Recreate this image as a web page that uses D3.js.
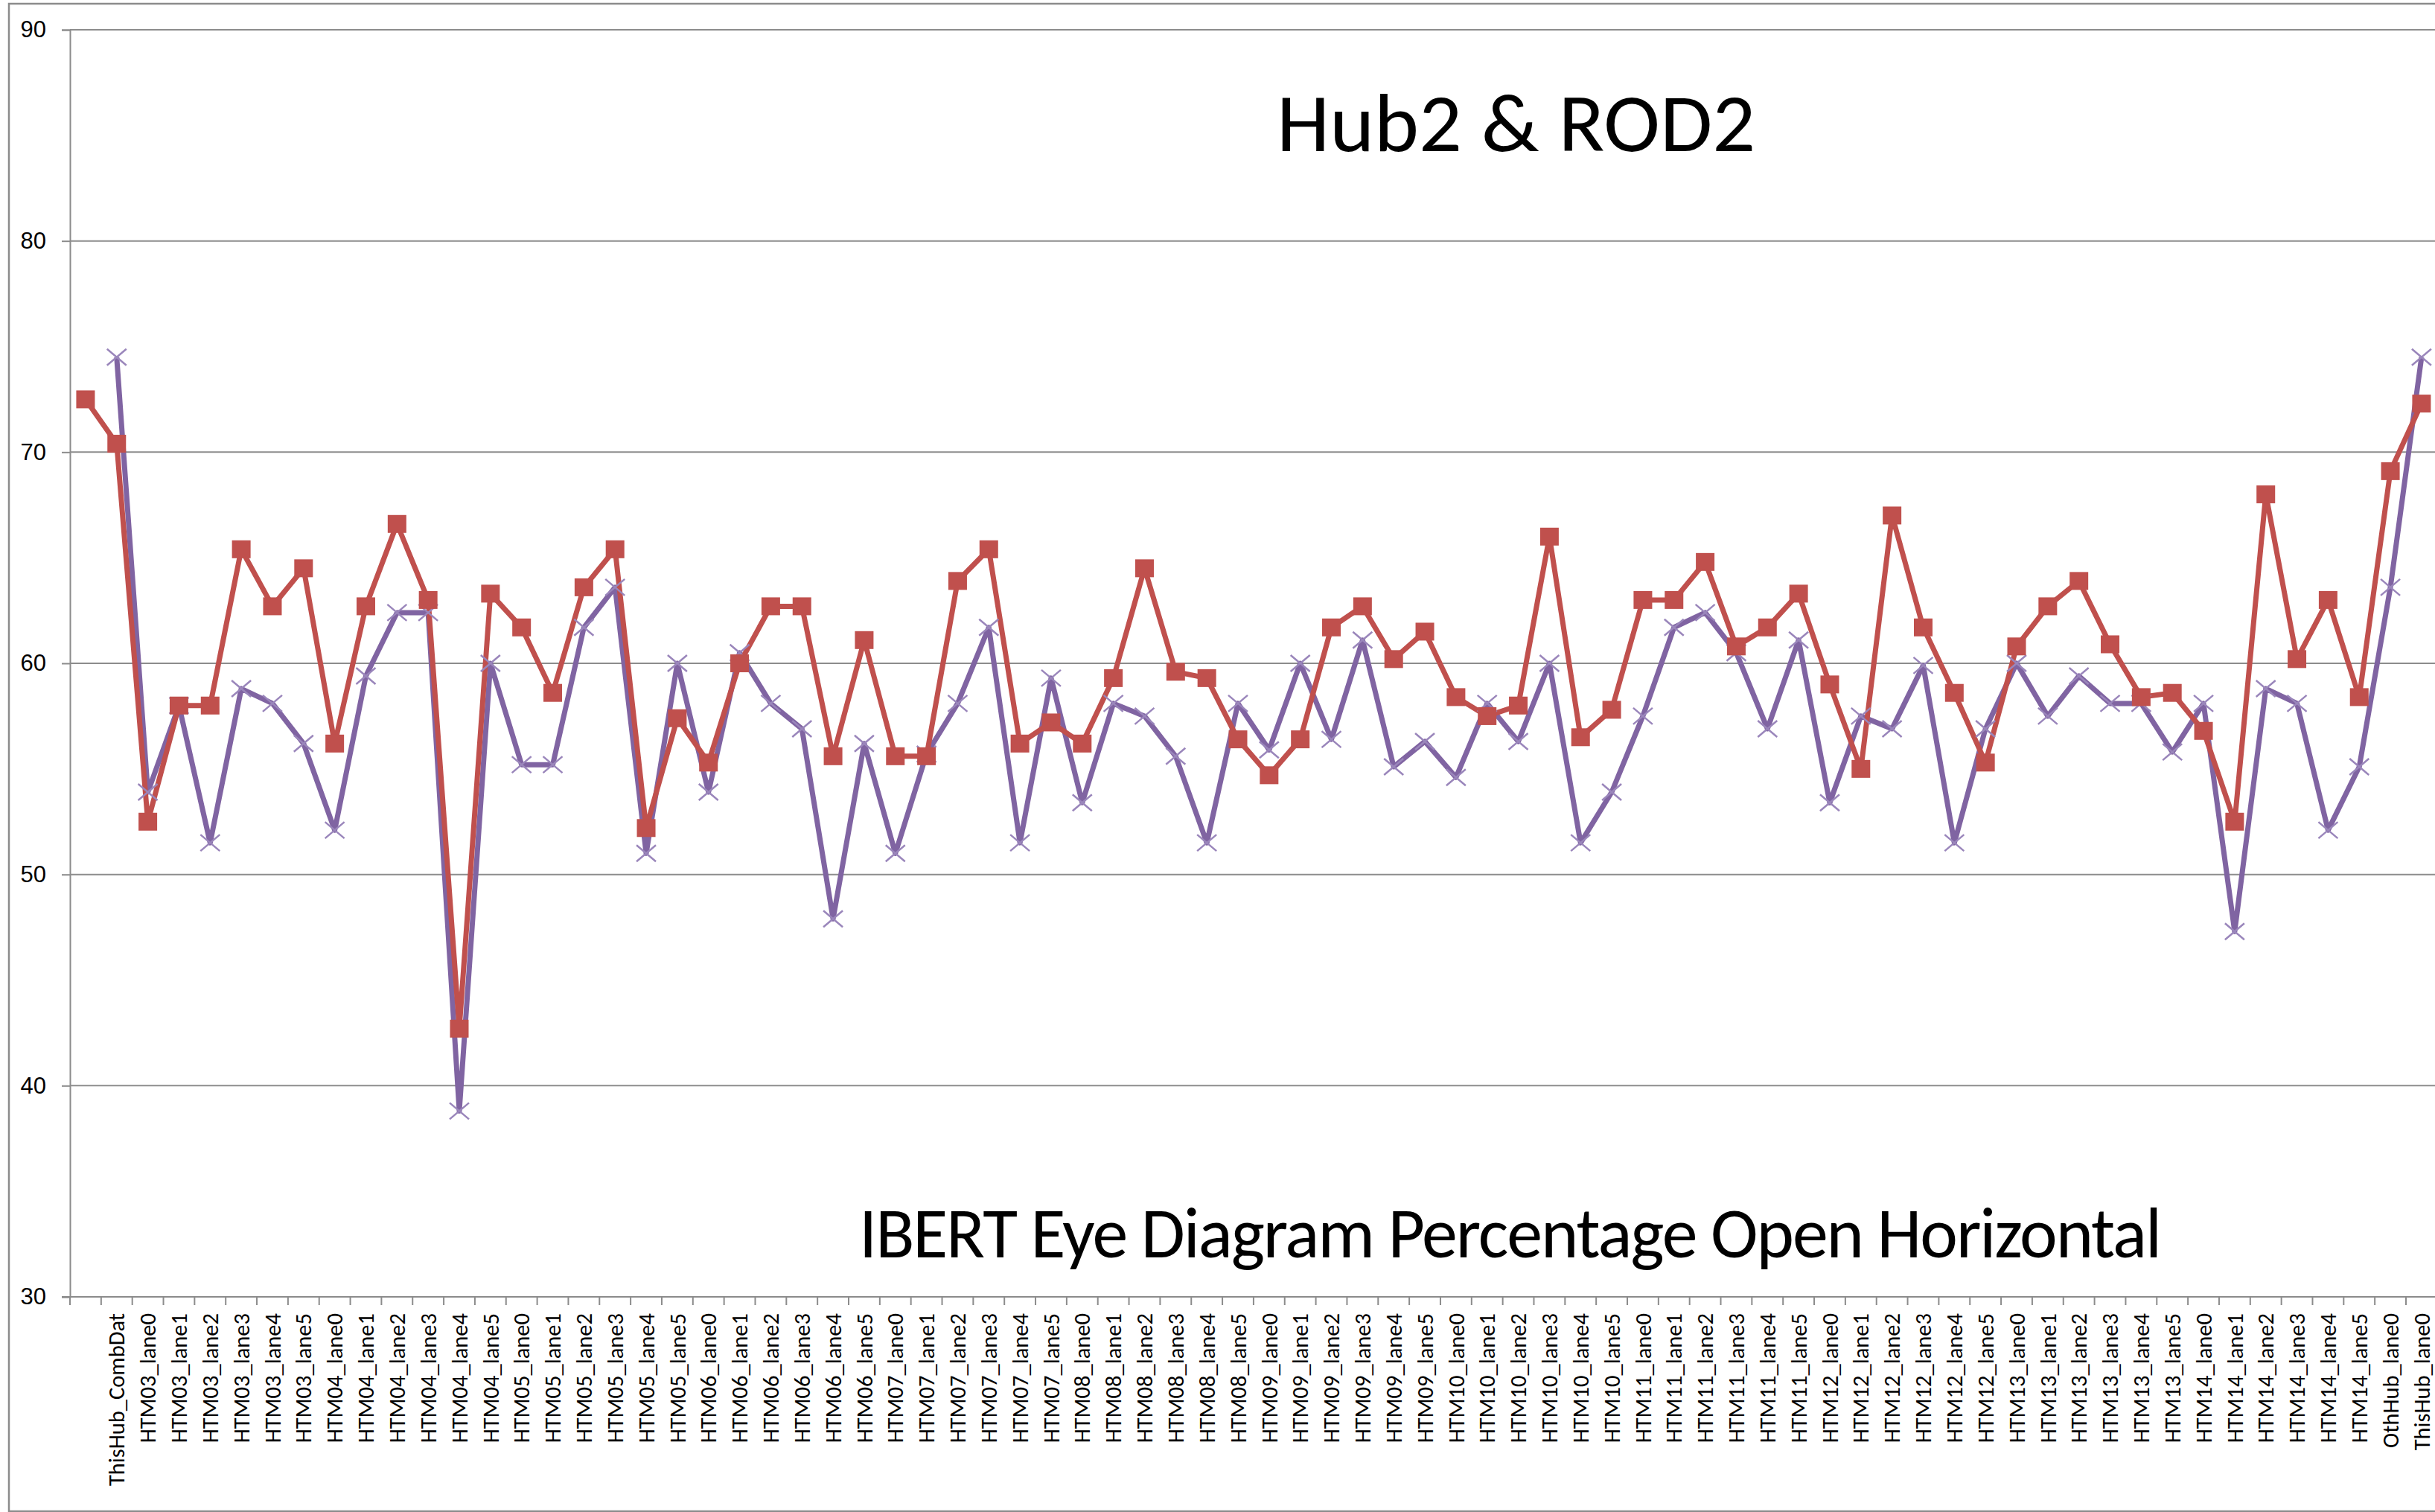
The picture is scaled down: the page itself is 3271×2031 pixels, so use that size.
<!DOCTYPE html>
<html>
<head>
<meta charset="utf-8">
<script src="https://cdn.jsdelivr.net/npm/d3@7"></script>
<style>
    body { margin: 0; background: #fff; }
    svg { display: block; font-family: Carlito, Lato, "Open Sans", sans-serif; }
    .grid line { stroke: #8c8c8c; stroke-width: 2; }
    .axis path, .axis line { stroke: #8c8c8c; stroke-width: 2; }
    .axis text { fill: #000; }
</style>
</head>
<body>
<div id="chart"></div>
<script>
const categories = ["", "ThisHub_CombDat",
    "HTM03_lane0", "HTM03_lane1", "HTM03_lane2", "HTM03_lane3", "HTM03_lane4", "HTM03_lane5",
    "HTM04_lane0", "HTM04_lane1", "HTM04_lane2", "HTM04_lane3", "HTM04_lane4", "HTM04_lane5",
    "HTM05_lane0", "HTM05_lane1", "HTM05_lane2", "HTM05_lane3", "HTM05_lane4", "HTM05_lane5",
    "HTM06_lane0", "HTM06_lane1", "HTM06_lane2", "HTM06_lane3", "HTM06_lane4", "HTM06_lane5",
    "HTM07_lane0", "HTM07_lane1", "HTM07_lane2", "HTM07_lane3", "HTM07_lane4", "HTM07_lane5",
    "HTM08_lane0", "HTM08_lane1", "HTM08_lane2", "HTM08_lane3", "HTM08_lane4", "HTM08_lane5",
    "HTM09_lane0", "HTM09_lane1", "HTM09_lane2", "HTM09_lane3", "HTM09_lane4", "HTM09_lane5",
    "HTM10_lane0", "HTM10_lane1", "HTM10_lane2", "HTM10_lane3", "HTM10_lane4", "HTM10_lane5",
    "HTM11_lane0", "HTM11_lane1", "HTM11_lane2", "HTM11_lane3", "HTM11_lane4", "HTM11_lane5",
    "HTM12_lane0", "HTM12_lane1", "HTM12_lane2", "HTM12_lane3", "HTM12_lane4", "HTM12_lane5",
    "HTM13_lane0", "HTM13_lane1", "HTM13_lane2", "HTM13_lane3", "HTM13_lane4", "HTM13_lane5",
    "HTM14_lane0", "HTM14_lane1", "HTM14_lane2", "HTM14_lane3", "HTM14_lane4", "HTM14_lane5",
    "OthHub_lane0", "ThisHub_lane0"];

// red squares
const hub2Values = [72.5, 70.4, 52.5, 58.0, 58.0, 65.4, 62.7, 64.5, 56.2, 62.7, 66.6, 63.0, 42.7,
    63.3, 61.7, 58.6, 63.6, 65.4, 52.2, 57.4, 55.3, 60.0, 62.7, 62.7, 55.6, 61.1,
    55.6, 55.6, 63.9, 65.4, 56.2, 57.2, 56.2, 59.3, 64.5, 59.6, 59.3, 56.4,
    54.7, 56.4, 61.7, 62.7, 60.2, 61.5, 58.4, 57.5, 58.0, 66.0, 56.5, 57.8,
    63.0, 63.0, 64.8, 60.8, 61.7, 63.3, 59.0, 55.0, 67.0, 61.7, 58.6, 55.3,
    60.8, 62.7, 63.9, 60.9, 58.4, 58.6, 56.8, 52.5, 68.0, 60.2, 63.0, 58.4, 69.1, 72.3];

// purple crosses
const rod2Values = [null, 74.5, 53.9, 58.0, 51.5, 58.8, 58.1, 56.2, 52.1, 59.4, 62.4, 62.4, 38.8,
    60.0, 55.2, 55.2, 61.7, 63.6, 51.0, 60.0, 53.9, 60.5, 58.1, 56.9, 47.9, 56.2,
    51.0, 55.7, 58.1, 61.7, 51.5, 59.3, 53.4, 58.1, 57.5, 55.6, 51.5, 58.1,
    55.9, 60.0, 56.4, 61.1, 55.1, 56.3, 54.6, 58.1, 56.3, 60.0, 51.5, 53.9,
    57.5, 61.7, 62.4, 60.5, 56.9, 61.1, 53.4, 57.5, 56.9, 59.9, 51.5, 56.9,
    60.0, 57.5, 59.4, 58.1, 58.1, 55.8, 58.1, 47.3, 58.8, 58.1, 52.1, 55.1, 63.6, 74.5];

const yTicks = [30, 40, 50, 60, 70, 80, 90];
const title = "Hub2 & ROD2";
const subtitle = "IBERT Eye Diagram Percentage Open Horizontal";

const W = 3271, H = 2031;
const margin = {top: 40, left: 94, bottom: 289};
const plotRight = 94 + 76 * 41.84;

const svg = d3.select("#chart").append("svg")
    .attr("width", W)
    .attr("height", H);

// chart border
svg.append("rect")
    .attr("x", 12).attr("y", 5)
    .attr("width", W + 20).attr("height", 2025)
    .attr("fill", "#fff")
    .attr("stroke", "#8c8c8c")
    .attr("stroke-width", 2.5);

const x = d3.scaleBand()
    .domain(d3.range(categories.length))
    .range([margin.left, plotRight]);

const y = d3.scaleLinear()
    .domain([30, 90])
    .range([H - margin.bottom, margin.top]);

// gridlines
svg.append("g").attr("class", "grid")
    .selectAll("line")
    .data(yTicks.slice(1))
    .enter().append("line")
    .attr("x1", margin.left).attr("x2", plotRight)
    .attr("y1", d => y(d)).attr("y2", d => y(d));

// y axis
svg.append("g")
    .attr("class", "axis")
    .attr("transform", "translate(" + margin.left + ",0)")
    .call(d3.axisLeft(y).tickValues(yTicks).tickSize(11).tickPadding(21).tickFormat(d3.format("d")))
    .call(g => g.selectAll("text").style("font-size", "31px"));

// x axis: ticks between categories
const xAxis = svg.append("g")
    .attr("class", "axis")
    .attr("transform", "translate(0," + y(30) + ")");

xAxis.append("line")
    .attr("x1", margin.left - 11).attr("x2", plotRight);

xAxis.selectAll(".bound")
    .data(d3.range(categories.length + 1))
    .enter().append("line")
    .attr("class", "bound")
    .attr("x1", i => margin.left + i * x.step())
    .attr("x2", i => margin.left + i * x.step())
    .attr("y1", 0).attr("y2", 11);

xAxis.selectAll(".lbl")
    .data(categories)
    .enter().append("text")
    .attr("class", "lbl")
    .attr("transform", (d, i) => "translate(" + (x(i) + x.bandwidth() / 2) + ",22)rotate(-90)")
    .attr("text-anchor", "end")
    .attr("dy", "0.35em")
    .style("font-size", "30.5px")
    .text(d => d);

// lines
const line = key => d3.line()
    .defined(d => d[key] != null)
    .x(d => x(d.i) + x.bandwidth() / 2)
    .y(d => y(d[key]));

const rows = categories.map((c, i) => ({i: i, hub2: hub2Values[i], rod2: rod2Values[i]}));

svg.append("path")
    .attr("d", line("rod2")(rows))
    .attr("fill", "none")
    .attr("stroke", "#8064a2")
    .attr("stroke-width", 7)
    .attr("stroke-linejoin", "round");

svg.append("path")
    .attr("d", line("hub2")(rows))
    .attr("fill", "none")
    .attr("stroke", "#c0504d")
    .attr("stroke-width", 7)
    .attr("stroke-linejoin", "round");

// markers
svg.append("g")
    .selectAll("path")
    .data(rows.filter(d => d.rod2 != null))
    .enter().append("path")
    .attr("transform", d => "translate(" + (x(d.i) + x.bandwidth() / 2) + "," + y(d.rod2) + ")")
    .attr("d", "M-13,-11L13,11M-13,11L13,-11")
    .attr("stroke", "#9a86bb")
    .attr("stroke-width", 2.5)
    .attr("fill", "none");

svg.append("g")
    .selectAll("rect")
    .data(rows)
    .enter().append("rect")
    .attr("x", d => x(d.i) + x.bandwidth() / 2 - 12.5)
    .attr("y", d => y(d.hub2) - 12)
    .attr("width", 25)
    .attr("height", 24)
    .attr("fill", "#c0504d");

// titles
svg.append("text")
    .attr("x", 1715).attr("y", 203)
    .style("font-size", "112px")
    .attr("textLength", 643)
    .attr("lengthAdjust", "spacingAndGlyphs")
    .text(title);

svg.append("text")
    .attr("x", 1154).attr("y", 1689)
    .style("font-size", "96px")
    .attr("textLength", 1750)
    .attr("lengthAdjust", "spacing")
    .text(subtitle);
</script>
</body>
</html>
